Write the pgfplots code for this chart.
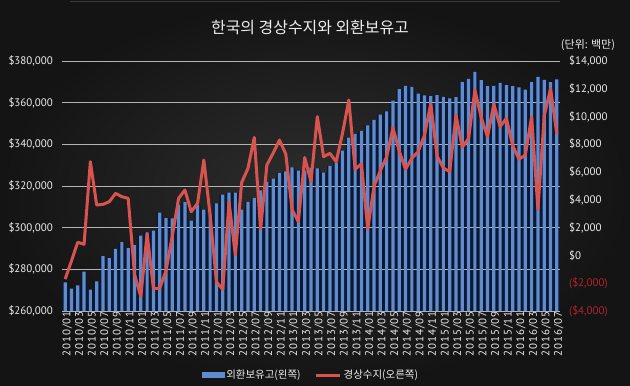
\documentclass[border=0pt]{standalone}
\usepackage{fontspec}
\setmainfont{PT Sans}
\newfontfamily\tickfont{PT Sans}[LetterSpace=8]
\newfontfamily\kr{Noto Sans CJK KR}
\usepackage{pgfplots}
\usepackage{pgfplotstable}
\pgfplotsset{compat=1.18}
\definecolor{barblue}{HTML}{5E8CCF}
\definecolor{barnavy}{HTML}{0C1730}
\definecolor{linered}{HTML}{D9544F}
\definecolor{gridc}{HTML}{B4B4B4}
\definecolor{negred}{HTML}{B3242A}
\definecolor{txt}{HTML}{EDEDED}
\definecolor{bgin}{HTML}{2E2E2E}
\definecolor{bgout}{HTML}{141414}

\pgfplotstableread{
i res ca
0 273690 -1700
1 270770 -400
2 272330 950
3 278870 800
4 270220 6750
5 274220 3630
6 286300 3680
7 285400 3870
8 289770 4470
9 293100 4230
10 290200 4110
11 291570 -1350
12 296220 -2970
13 297700 1550
14 298620 -2370
15 307240 -2370
16 304550 -1100
17 304410 1400
18 311030 4110
19 312200 4710
20 303380 3150
21 310980 3750
22 308670 6870
23 306400 2900
24 311700 -1900
25 315800 -2450
26 316860 3850
27 316850 30
28 308600 5250
29 312380 6270
30 314330 8500
31 317860 1900
32 322010 6510
33 323500 7370
34 326270 8310
35 326970 7300
36 328910 3300
37 327430 2430
38 327430 7050
39 328780 5310
40 328440 9990
41 326400 7110
42 329710 7350
43 331090 6750
44 336920 8800
45 343220 11190
46 345030 6200
47 346460 6600
48 349070 1900
49 351750 5000
50 354310 6100
51 355850 7100
52 360940 9200
53 366550 7500
54 368030 6200
55 367550 7000
56 364390 7470
57 363530 8650
58 363140 10900
59 363590 7150
60 362810 6300
61 362010 6030
62 362660 10110
63 369910 7780
64 371450 8430
65 374750 11910
66 370800 9930
67 367960 8550
68 368080 10900
69 369460 9270
70 368460 9870
71 367960 7900
72 367300 6930
73 366220 7230
74 369890 9990
75 372320 3330
76 370900 10050
77 369880 12030
78 371220 8730
}\datatable

\begin{document}
\begin{tikzpicture}
\path[use as bounding box] (-62bp,-75bp) rectangle (568bp,311bp);
\fill[bgout] (-62bp,-75bp) rectangle (568bp,311bp);
\shade[inner color=bgin, outer color=bgout] (-62bp,-75bp) rectangle (568bp,311bp);
\draw[gray!45!black, line width=0.8bp] (8bp,309.5bp) -- (498bp,309.5bp);
\node[text=txt, font=\kr\fontsize{16}{19}\selectfont] at (248bp,283bp) {한국의 경상수지와 외환보유고};
\node[text=txt, font=\kr\fontsize{11}{13}\selectfont] at (526bp,266bp) {(단위: 백만)};

\begin{axis}[
  at={(0,0)}, anchor=south west,
  scale only axis, width=498bp, height=250bp,
  xmin=-0.5, xmax=78.5, ymin=260000, ymax=380000,
  axis line style={draw=none}, major tick length=0pt,
  scaled y ticks=false,
  ytick={260000,280000,300000,320000,340000,360000,380000},
  yticklabels={{\$260,000},{\$280,000},{\$300,000},{\$320,000},{\$340,000},{\$360,000},{\$380,000}},
  yticklabel style={text=txt, font=\fontsize{11}{13}\selectfont, inner sep=0pt, xshift=-9bp},
  xtick={0,2,...,78},
  xticklabels={2010/01,2010/03,2010/05,2010/07,2010/09,2010/11,
    2011/01,2011/03,2011/05,2011/07,2011/09,2011/11,
    2012/01,2012/03,2012/05,2012/07,2012/09,2012/11,
    2013/01,2013/03,2013/05,2013/07,2013/09,2013/11,
    2014/01,2014/03,2014/05,2014/07,2014/09,2014/11,
    2015/01,2015/03,2015/05,2015/07,2015/09,2015/11,
    2016/01,2016/03,2016/05,2016/07},
  xticklabel style={rotate=90, anchor=east, text=txt, font=\tickfont\fontsize{11}{13}\selectfont, inner sep=0pt, yshift=-2bp},
  clip=false,
]
\addplot[ybar, bar width=6.3bp, bar shift=0pt, fill=barnavy, draw=none, forget plot] table[x=i,y=res]{\datatable};
\pgfplotsinvokeforeach{260000,280000,300000,320000,340000,360000,380000}{
  \addplot[gridc, line width=0.8bp, forget plot] coordinates {(-0.5,#1) (78.5,#1)};
}
\addplot[ybar, bar width=3.2bp, bar shift=0pt, fill=barblue, draw=none, forget plot] table[x=i,y=res]{\datatable};
\end{axis}

\begin{axis}[
  at={(0,0)}, anchor=south west,
  scale only axis, width=498bp, height=250bp,
  xmin=-0.5, xmax=78.5, ymin=-4000, ymax=14000,
  axis y line*=right, hide x axis,
  axis line style={draw=none}, major tick length=0pt,
  scaled y ticks=false,
  ytick={-4000,-2000,0,2000,4000,6000,8000,10000,12000,14000},
  yticklabels={{\textcolor{negred}{(\$4,000)}},{\textcolor{negred}{(\$2,000)}},{\$0},{\$2,000},{\$4,000},{\$6,000},{\$8,000},{\$10,000},{\$12,000},{\$14,000}},
  yticklabel style={text=txt, font=\fontsize{11}{13}\selectfont, inner sep=0pt, xshift=9bp},
  legend columns=2,
  legend style={at={(0.5,-0.256)}, anchor=center, draw=none, fill=none, text=txt,
    font=\kr\fontsize{10.5}{12}\selectfont, inner sep=0pt,
    /tikz/every even column/.append style={column sep=12bp}},
  clip=false,
]
\addlegendimage{legend image code/.code={\fill[barblue] (0bp,-2.5bp) rectangle (22bp,2.5bp);}}
\addlegendentry{외환보유고(왼쪽)}
\addplot[linered, line width=3bp, line join=round,
  legend image code/.code={\draw[linered, line width=3bp] (0bp,0bp) -- (24bp,0bp);}] table[x=i,y=ca]{\datatable};
\addlegendentry{경상수지(오른쪽)}
\end{axis}
\end{tikzpicture}
\end{document}
